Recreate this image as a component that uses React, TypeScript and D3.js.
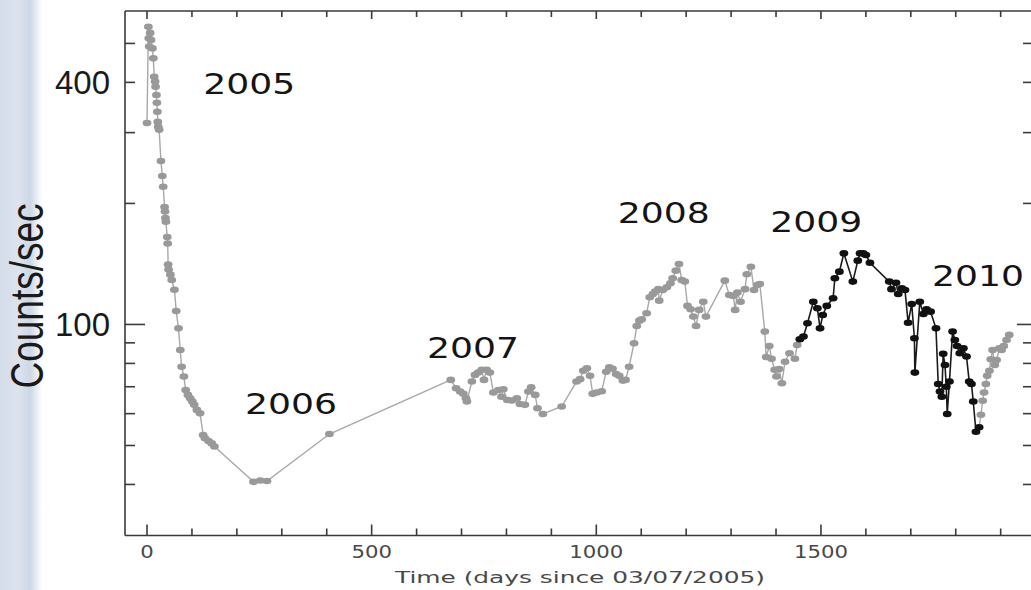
import * as d3 from "d3";

const W = 1031;
const H = 590;

// [days since 03/07/2005, counts/sec]
const grayEarly: [number, number][] = [
  [0, 317], [3, 550], [4, 515], [5, 491], [7, 531], [9, 510], [12, 486], [14, 459],
  [16, 413], [18, 402], [19, 390], [21, 372], [22, 356], [23, 338], [24, 319], [25, 310],
  [27, 305], [31, 255], [34, 234], [36, 220], [39, 196], [40, 191], [41, 184], [42, 180],
  [45, 165], [46, 159], [47, 141], [48, 137], [52, 133], [55, 129], [61, 122], [65, 108],
  [70, 97.8], [74, 86.4], [77, 78.5], [82, 74.2], [86, 68.7], [91, 66.8], [96, 65.5],
  [101, 64.3], [105, 63.1], [111, 61.3], [118, 60.1], [125, 53.1], [129, 52.1], [137, 51.3],
  [144, 50.6], [150, 49.7], [237, 40.6], [252, 40.9], [267, 40.8], [406, 53.4],
  [676, 72.8], [688, 69.4], [697, 68.1], [704, 67.2], [710, 65.5], [712, 64.3], [723, 72.1],
  [730, 74.9], [737, 75.9], [745, 77.1], [750, 72.8], [756, 77.1], [763, 75.9], [771, 67.7],
  [782, 68.7], [789, 66.1], [793, 69.0], [802, 64.9], [812, 64.7], [823, 65.5], [830, 63.4],
  [841, 63.1], [849, 68.1], [855, 69.8], [864, 66.8], [869, 61.9], [881, 59.9], [923, 62.5],
  [956, 72.1], [964, 73.1], [971, 76.7], [979, 77.8], [986, 74.5], [992, 67.2], [1001, 67.7],
  [1012, 68.2], [1022, 76.3], [1029, 78.2], [1036, 77.6], [1044, 75.3], [1051, 74.5],
  [1059, 72.5], [1065, 72.8], [1073, 78.5], [1084, 89.8], [1090, 99.1], [1096, 102.2],
  [1101, 103.0], [1112, 106.6], [1119, 116.9], [1126, 119.1], [1131, 120.7], [1138, 122.4],
  [1140, 114.6], [1148, 121.8], [1157, 123.7], [1165, 126.6], [1170, 130.3], [1177, 136.1],
  [1184, 141.4], [1190, 129.0], [1197, 127.8], [1203, 111.2], [1210, 109.1], [1216, 104.6],
  [1222, 99.1], [1229, 108.7], [1238, 113.9], [1244, 104.6], [1286, 128.5], [1296, 118.4],
  [1305, 117.7], [1309, 108.7], [1314, 120.0], [1321, 113.9], [1331, 122.4], [1335, 133.3],
  [1344, 139.2], [1351, 121.8], [1358, 125.4], [1364, 126.1], [1375, 96.0], [1378, 83.0],
  [1385, 88.4], [1390, 82.2], [1397, 77.1], [1401, 74.2], [1407, 77.5], [1413, 71.4],
  [1420, 80.8], [1430, 84.8], [1442, 82.2], [1447, 88.9],
];

const black2009: [number, number][] = [
  [1453, 91.9], [1461, 93.3], [1470, 100.7], [1483, 113.9], [1492, 109.7], [1498, 97.8],
  [1504, 105.6], [1513, 111.2], [1527, 116.2], [1531, 130.3], [1541, 135.3], [1551, 150.3],
  [1571, 127.8], [1582, 144.1], [1587, 150.3], [1594, 150.3], [1600, 148.9], [1609, 142.4],
  [1652, 127.8], [1657, 122.4], [1667, 127.0], [1672, 119.1], [1680, 123.0], [1687, 121.8],
  [1694, 101.0], [1702, 112.4], [1708, 92.4], [1709, 75.9], [1720, 113.9], [1728, 106.2],
  [1735, 109.1], [1744, 107.6], [1756, 97.8], [1761, 71.1], [1765, 68.1], [1769, 66.1],
  [1772, 84.5], [1776, 79.3], [1779, 70.0], [1781, 59.9], [1786, 72.1], [1793, 96.0],
  [1798, 91.5], [1803, 88.4], [1809, 84.8], [1817, 87.2], [1824, 83.2], [1830, 72.1],
  [1835, 71.1], [1839, 64.3], [1845, 54.1], [1852, 55.5],
];

const grayLate: [number, number][] = [
  [1856, 59.6], [1860, 64.6], [1863, 67.7], [1867, 71.1], [1870, 74.5], [1875, 76.7],
  [1878, 81.9], [1882, 86.4], [1887, 79.3], [1891, 81.6], [1897, 87.2], [1902, 86.4],
  [1907, 88.4], [1913, 91.5], [1919, 94.2],
];

const yearNames = ["2005", "2006", "2007", "2008", "2009", "2010"];
// where each year label starts (day) and sits (counts at baseline)
const yearAnchors: [number, number][] = [
  [125, 375], [218, 60], [623, 82.5], [1048, 179], [1387, 170], [1747, 124.7],
];

const xLabelValues = [0, 500, 1000, 1500];
const yLabelValues = [400, 100];
const yTickValues = [40, 50, 60, 70, 80, 90, 100, 200, 300, 400, 500];

export default function App() {
  const left = 125;
  const right = 1031;
  const top = 11;
  const bottom = 535.5;

  const x = d3.scaleLinear().domain([-49, 1967.5]).range([left, right]);
  const y = d3.scaleLog().domain([29.86, 602]).range([bottom, top]);

  const line = d3
    .line<[number, number]>()
    .x((d) => x(d[0]))
    .y((d) => y(d[1]));

  const xTicks = d3.range(0, 2000, 100);
  const axisColor = "#3a3a3a";

  return (
    <svg
      width={W}
      height={H}
      style={{ position: "fixed", left: 0, top: 0, background: "#fff" }}
    >
      <defs>
        <linearGradient id="band" x1="0" x2="1" y1="0" y2="0">
          <stop offset="0" stopColor="#d4dcea" />
          <stop offset="0.45" stopColor="#dde3ee" />
          <stop offset="0.72" stopColor="#cdd7e6" />
          <stop offset="1" stopColor="#ffffff" />
        </linearGradient>
      </defs>
      <rect x={0} y={0} width={W} height={H} fill="#fff" />
      <rect x={0} y={0} width={42} height={H} fill="url(#band)" />

      {/* frame (right edge sits just past the picture) */}
      <g stroke={axisColor} strokeWidth={1.6} fill="none">
        <line x1={left} x2={right} y1={top} y2={top} />
        <line x1={left} x2={right} y1={bottom} y2={bottom} />
        <line x1={left} x2={left} y1={top} y2={bottom} />
        {xTicks.map((t) => {
          const major = t % 500 === 0;
          return (
            <g key={"xt" + t}>
              <line x1={x(t)} x2={x(t)} y1={bottom} y2={bottom - (major ? 11 : 7)} />
              <line x1={x(t)} x2={x(t)} y1={top} y2={top + (major ? 8 : 6)} />
            </g>
          );
        })}
        {yTickValues.map((t) => {
          const major = t === 100;
          return (
            <g key={"yt" + t}>
              <line x1={left} x2={left + (major ? 20 : 10)} y1={y(t)} y2={y(t)} />
              <line x1={right + 2} x2={right + 2 - (major ? 16 : 10)} y1={y(t)} y2={y(t)} />
            </g>
          );
        })}
      </g>

      {/* light curve */}
      <path
        d={line([...grayEarly, black2009[0]]) || ""}
        fill="none"
        stroke="#a8a8a8"
        strokeWidth={1.4}
      />
      <path
        d={line([black2009[black2009.length - 1], ...grayLate]) || ""}
        fill="none"
        stroke="#a8a8a8"
        strokeWidth={1.4}
      />
      <path d={line(black2009) || ""} fill="none" stroke="#1a1a1a" strokeWidth={1.6} />
      {[...grayEarly, ...grayLate].map((d, i) => (
        <ellipse key={"g" + i} cx={x(d[0])} cy={y(d[1])} rx={4.4} ry={3.3} fill="#999" />
      ))}
      {black2009.map((d, i) => (
        <ellipse key={"b" + i} cx={x(d[0])} cy={y(d[1])} rx={4.4} ry={3.3} fill="#111" />
      ))}

      {/* year labels */}
      {yearNames.map((name, i) => (
        <text
          key={name}
          x={x(yearAnchors[i][0])}
          y={y(yearAnchors[i][1])}
          fontFamily="DejaVu Sans"
          fontSize={29}
          textLength={92}
          lengthAdjust="spacingAndGlyphs"
          fill="#141414"
        >
          {name}
        </text>
      ))}

      {/* x tick labels */}
      {xLabelValues.map((v) => (
        <text
          key={"xl" + v}
          x={x(v)}
          y={558}
          textAnchor="middle"
          fontFamily="DejaVu Sans"
          fontSize={17}
          textLength={String(v).length * 13.5}
          lengthAdjust="spacingAndGlyphs"
          fill="#484848"
        >
          {v}
        </text>
      ))}
      <text
        x={395}
        y={583}
        fontFamily="DejaVu Sans"
        fontSize={16}
        textLength={370}
        lengthAdjust="spacingAndGlyphs"
        fill="#484848"
      >
        Time (days since 03/07/2005)
      </text>

      {/* y labels */}
      {yLabelValues.map((v) => (
        <text
          key={"yl" + v}
          x={110}
          y={y(v) + 12}
          textAnchor="end"
          fontFamily="Liberation Sans"
          fontSize={33}
          fill="#1a1a1a"
        >
          {v}
        </text>
      ))}
      <text
        transform="translate(43,296) scale(1.25,1) rotate(-90)"
        textAnchor="middle"
        fontFamily="Liberation Sans"
        fontSize={37}
        fill="#1a1a1a"
      >
        Counts/sec
      </text>
    </svg>
  );
}
